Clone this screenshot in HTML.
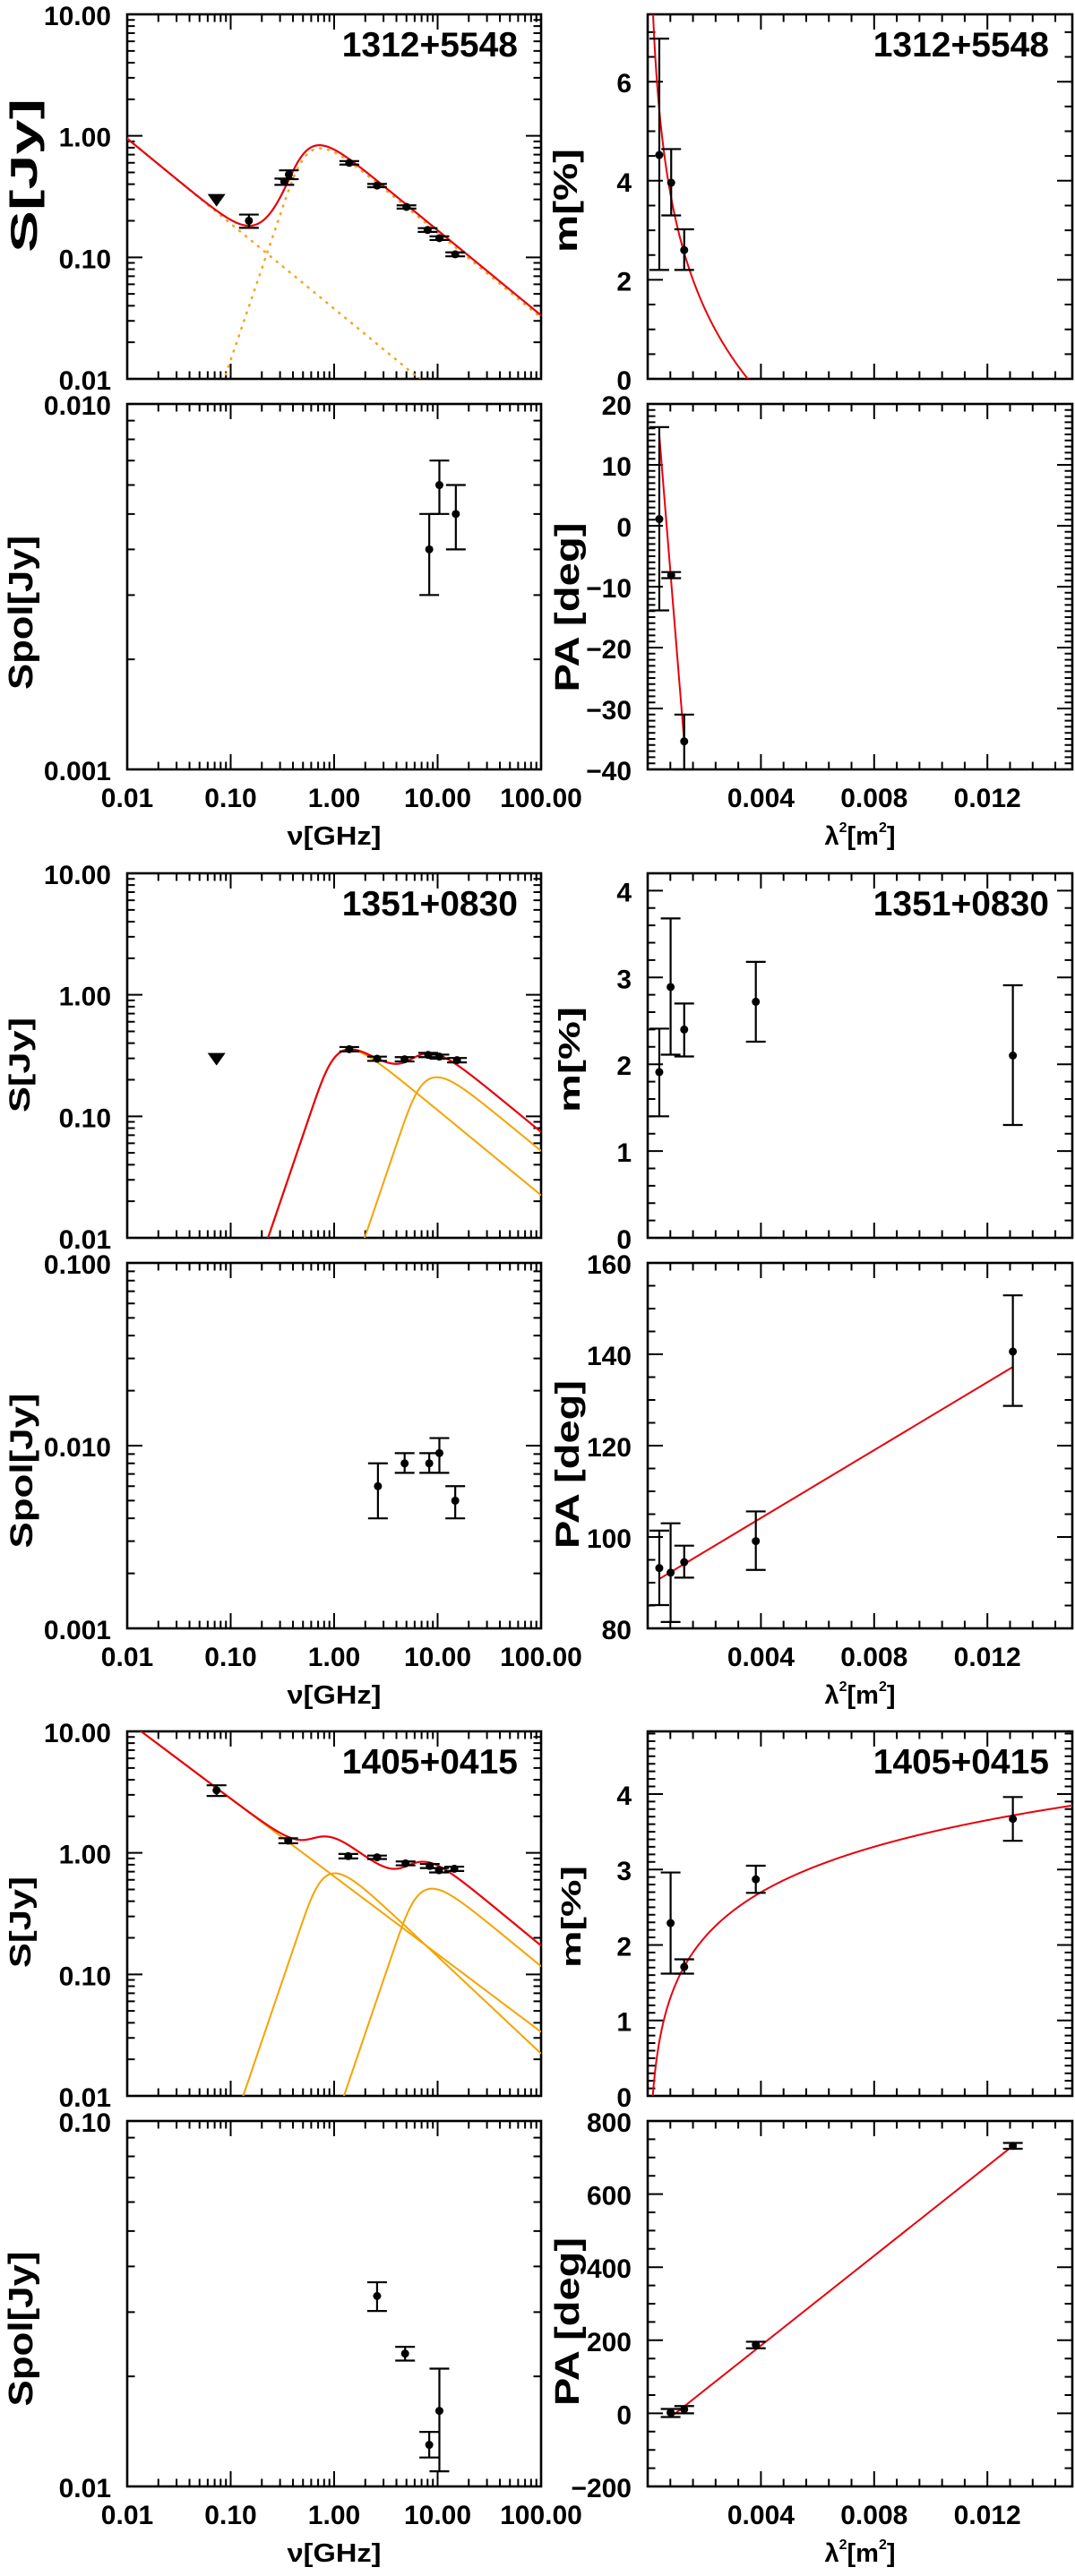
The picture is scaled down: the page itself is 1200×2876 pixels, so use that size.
<!DOCTYPE html>
<html><head><meta charset="utf-8"><title>Radio spectra and polarization</title>
<style>html,body{margin:0;padding:0;background:#fff;overflow:hidden}svg{display:block}text{font-family:"Liberation Sans",Arial,sans-serif;font-weight:bold;fill:#000}</style>
</head><body>
<svg id="fig" xmlns="http://www.w3.org/2000/svg" width="1200" height="2876" viewBox="0 0 1200 2876"></svg>
<script>
// ---------------- DATA ----------------
// Group 1: 1312+5548
const g1Nu = [0.15, 0.33, 0.365, 1.4, 2.6, 5.0, 8.0, 10.4, 14.8];
const g1S = [0.20, 0.42, 0.48, 0.60, 0.39, 0.26, 0.168, 0.144, 0.106];
const g1SErr = [0.025, 0.025, 0.04, 0.02, 0.012, 0.008, 0.006, 0.005, 0.004];
const g1LimNu = [0.073];
const g1LimS = [0.30];
const g1PL = [0.0378, -0.7];
const g1SSA = [0.582, 1.168, -0.7];
const g1PNu = [8.3, 10.4, 15.0];
const g1PS = [0.004, 0.006, 0.005];
const g1PLo = [0.003, 0.005, 0.004];
const g1PHi = [0.005, 0.007, 0.006];
const g1L2 = [0.00041, 0.00083, 0.00129];
const g1M = [4.52, 3.96, 2.6];
const g1MLo = [2.2, 3.3, 2.2];
const g1MHi = [6.87, 4.64, 3.02];
const g1MFit = [-2.52, 0.00354];
const g1PA = [1.1, -8.1, -35.4];
const g1PALo = [-13.9, -8.6, -40];
const g1PAHi = [16.2, -7.6, -31];
const g1PAFit = [38.3, -57160, 0.00041, 0.00129];
// Group 2: 1351+0830
const g2Nu = [1.4, 2.6, 4.8, 8.1, 10.4, 15.4];
const g2S = [0.357, 0.298, 0.295, 0.32, 0.31, 0.29];
const g2SErr = [0.015, 0.012, 0.012, 0.013, 0.012, 0.012];
const g2LimNu = [0.073];
const g2LimS = [0.30];
const g2SSA1 = [1.118, 0.521, -0.7];
const g2SSA2 = [7.79, 0.31, -0.7];
const g2PNu = [2.65, 4.8, 8.3, 10.4, 14.8];
const g2PS = [0.006, 0.008, 0.008, 0.0091, 0.005];
const g2PLo = [0.004, 0.0071, 0.0071, 0.0071, 0.004];
const g2PHi = [0.008, 0.0091, 0.0091, 0.011, 0.006];
const g2L2 = [0.00041, 0.00081, 0.00129, 0.00382, 0.0129];
const g2M = [1.91, 2.89, 2.40, 2.72, 2.10];
const g2MLo = [1.40, 2.11, 2.09, 2.26, 1.30];
const g2MHi = [2.41, 3.68, 2.70, 3.18, 2.91];
const g2PA = [93.2, 92.2, 94.5, 99.1, 140.6];
const g2PALo = [85.1, 81.4, 91.1, 92.8, 128.7];
const g2PAHi = [101.4, 103.0, 98.1, 105.6, 152.9];
const g2PAFit = [89.3, 3715, 0.00041, 0.0129];
// Group 3: 1405+0415
const g3Nu = [0.073, 0.36, 1.37, 2.6, 4.9, 8.4, 10.3, 14.5];
const g3S = [3.27, 1.26, 0.94, 0.92, 0.82, 0.78, 0.72, 0.74];
const g3SErr = [0.33, 0.06, 0.04, 0.03, 0.03, 0.03, 0.03, 0.03];
const g3PL = [0.64, -0.64];
const g3SSA1 = [0.84, 1.02, -0.8];
const g3SSA2 = [7.0, 0.75, -0.7];
const g3PNu = [2.6, 4.85, 8.3, 10.4];
const g3PS = [0.0332, 0.0231, 0.0130, 0.0161];
const g3PLo = [0.0302, 0.0221, 0.0120, 0.0110];
const g3PHi = [0.0362, 0.0241, 0.0141, 0.0210];
const g3L2 = [0.00081, 0.00129, 0.00382, 0.0129];
const g3M = [2.29, 1.71, 2.87, 3.67];
const g3MLo = [1.62, 1.62, 2.69, 3.38];
const g3MHi = [2.96, 1.81, 3.05, 3.96];
const g3MFit = [0.87, 0.00018];
const g3PA = [2, 11, 188, 732];
const g3PALo = [-10, 0, 178, 724];
const g3PAHi = [12, 20, 196, 740];
const g3PAFit = [-60, 61400, 0.00085, 0.0129];
// tick labels
const nuTickVals = [0.01, 0.1, 1, 10, 100];
const nuTickText = ['0.01', '0.10', '1.00', '10.00', '100.00'];
const l2TickVals = [0.004, 0.008, 0.012];
const l2TickText = ['0.004', '0.008', '0.012'];
const sTickVals = [10, 1, 0.1, 0.01];
const sTickText = ['10.00', '1.00', '0.10', '0.01'];
const sourceNames = ['1312+5548', '1351+0830', '1405+0415'];

// ---------------- DRAWING ----------------
const NS = 'http://www.w3.org/2000/svg';
const svg = document.getElementById('fig');
function mk(parent, tag, attrs, name) {
  const el = document.createElementNS(NS, tag);
  for (const k in attrs) el.setAttribute(k, attrs[k]);
  
  
  parent.appendChild(el);
  return el;
}
function scale(min, max, p0, p1, log) {
  if (log) { const a = Math.log10(min), b = Math.log10(max); return v => p0 + (Math.log10(v) - a) / (b - a) * (p1 - p0); }
  return v => p0 + (v - min) / (max - min) * (p1 - p0);
}
const LX = [142, 604], RX = [723, 1197];
const TOPS = [16, 975, 1933];
let clipN = 0;
function panel(o) {
  const g = mk(svg, 'g', {}, o.name);
  const sx = scale(o.xmin, o.xmax, o.x0, o.x1, o.xlog);
  const sy = scale(o.ymin, o.ymax, o.y1, o.y0, o.ylog);
  const id = 'clip' + (clipN++);
  const cp = mk(g, 'clipPath', {id: id}, o.name + '-clip');
  mk(cp, 'rect', {x: o.x0, y: o.y0, width: o.x1 - o.x0, height: o.y1 - o.y0}, o.name + '-clip-rect');
  const ticks = mk(g, 'g', {stroke: '#000', 'stroke-width': 2}, o.name + '-ticks');
  let d = '';
  function xt(v, len) { const x = sx(v); d += `M${x},${o.y1}v${-len}M${x},${o.y0}v${len}`; }
  function yt(v, len) { const y = sy(v); d += `M${o.x0},${y}h${len}M${o.x1},${y}h${-len}`; }
  const MJ = 17, MN = 8.5;
  if (o.xlog) { for (let e = -2; e <= 2; e++) { xt(Math.pow(10, e), MJ); if (e < 2) for (let k = 2; k < 10; k++) xt(k * Math.pow(10, e), MN); } }
  else { for (let i = 0; i * o.xminor <= o.xmax + 1e-9; i++) { const v = i * o.xminor; const isMaj = Math.abs(v / o.xmajor - Math.round(v / o.xmajor)) < 1e-6; xt(v, isMaj ? MJ : MN); } }
  if (o.ylog) { const a = Math.round(Math.log10(o.ymin)), b = Math.round(Math.log10(o.ymax)); for (let e = a; e <= b; e++) { yt(Math.pow(10, e), MJ); if (e < b) for (let k = 2; k < 10; k++) yt(k * Math.pow(10, e), MN); } }
  else { const start = Math.ceil(o.ymin / o.yminor - 1e-6);
    for (let i = start; i * o.yminor <= o.ymax + 1e-9; i++) { const v = i * o.yminor; const isMaj = Math.abs(v / o.ymajor - Math.round(v / o.ymajor)) < 1e-6; yt(v, isMaj ? MJ : MN); } }
  mk(ticks, 'path', {d: d, fill: 'none'}, o.name + '-tick-marks');
  mk(g, 'rect', {x: o.x0, y: o.y0, width: o.x1 - o.x0, height: o.y1 - o.y0, fill: 'none', stroke: '#000', 'stroke-width': 2.6}, o.name + '-frame');
  const yl = mk(g, 'g', {'font-size': 30, 'text-anchor': 'end'}, o.name + '-y-tick-labels');
  o.yTickVals.forEach((v, i) => { const t = mk(yl, 'text', {x: o.x0 - 18, y: sy(v) + 12}, 'y-tick-label'); t.textContent = o.yTickText[i]; });
  if (o.xTickVals) {
    const xl = mk(g, 'g', {'font-size': 30, 'text-anchor': 'middle'}, o.name + '-x-tick-labels');
    o.xTickVals.forEach((v, i) => { const t = mk(xl, 'text', {x: sx(v), y: o.y1 + 42}, 'x-tick-label'); t.textContent = o.xTickText[i]; });
  }
  if (o.title) { const t = mk(g, 'text', {x: o.x1 - 26, y: o.y0 + 47, 'font-size': 39, 'text-anchor': 'end'}, o.name + '-source-name'); t.textContent = o.title; }
  if (o.ylabel) { const L = o.ylabel; const t = mk(g, 'text', {x: L[1], y: L[2], 'font-size': L[3], 'text-anchor': 'middle', textLength: L[4], lengthAdjust: 'spacingAndGlyphs', transform: `rotate(-90 ${L[1]} ${L[2]})`}, o.name + '-y-axis-title'); t.textContent = L[0]; }
  const plot = mk(g, 'g', {'clip-path': `url(#${id})`}, o.name + '-plot-area');
  return {g, plot, sx, sy, o};
}
function errPoints(p, xs, ys, lo, hi, name) {
  const g = mk(p.g, 'g', {}, name);
  xs.forEach((xv, i) => {
    const x = p.sx(xv), y = p.sy(ys[i]), yl = p.sy(lo[i]), yh = p.sy(hi[i]);
    mk(g, 'path', {d: `M${x},${yl}V${yh}M${x - 11},${yl}h22M${x - 11},${yh}h22`, stroke: '#000', 'stroke-width': 2.2, fill: 'none'}, 'error-bar');
    mk(g, 'circle', {cx: x, cy: y, r: 4.5, fill: '#000'}, 'data-point');
  });
}
function sym(p, xs, ys, err, name) { errPoints(p, xs, ys, ys.map((v, i) => v - err[i]), ys.map((v, i) => v + err[i]), name); }
function limits(p, xs, ys, name) {
  xs.forEach((xv, i) => { const x = p.sx(xv), y = p.sy(ys[i]);
    mk(p.g, 'polygon', {points: `${x - 10},${y - 6} ${x + 10},${y - 6} ${x},${y + 8}`, fill: '#000'}, name); });
}
function ssa(nu, c) { const x = nu / c[0]; return c[1] * Math.pow(x, 2.5) * (1 - Math.exp(-Math.pow(x, c[2] - 2.5))); }
function pl(nu, c) { return c[0] * Math.pow(nu, c[1]); }
const NUS = []; for (let i = 0; i <= 800; i++) NUS.push(Math.pow(10, -2 + 4 * i / 800));
function curve(p, fn, xs, style, name) {
  let d = '';
  const lo = p.o.y0 - 30, hi = p.o.y1 + 30;
  xs.forEach((x, i) => { let v = fn(x); if (p.o.ylog) v = Math.max(v, 1e-8); let Y = p.sy(v); Y = Math.max(lo, Math.min(hi, Y)); d += (i ? 'L' : 'M') + p.sx(x).toFixed(2) + ',' + Y.toFixed(2); });
  const a = {d: d, fill: 'none', stroke: style.c, 'stroke-width': style.w || 2};
  if (style.dash) { a['stroke-dasharray'] = style.dash; a['stroke-linecap'] = 'round'; }
  mk(p.plot, 'path', a, name);
}
const RED = {c: '#e8000b', w: 2.2}, ORG = {c: '#f5a300', w: 2}, DOT = {c: '#f5a623', w: 2.6, dash: '1 8'};
const L2S = []; for (let i = 0; i <= 600; i++) L2S.push(0.015 * Math.pow(i / 600, 2) + 1e-6);

function xlabelNu(y) { const t = mk(svg, 'text', {x: 373, y: y, 'font-size': 29, 'text-anchor': 'middle', textLength: 105, lengthAdjust: 'spacingAndGlyphs'}, 'x-axis-title-frequency'); t.textContent = 'ν[GHz]'; }
function xlabelL2(y) {
  const t = mk(svg, 'text', {x: 960, y: y, 'font-size': 29, 'text-anchor': 'middle'}, 'x-axis-title-lambda-squared');
  const a = mk(t, 'tspan', {}, 'lambda'); a.textContent = 'λ';
  const b = mk(t, 'tspan', {dy: -14, 'font-size': 16}, 'superscript'); b.textContent = '2';
  const c = mk(t, 'tspan', {dy: 14}, 'unit'); c.textContent = '[m';
  const e = mk(t, 'tspan', {dy: -14, 'font-size': 16}, 'superscript'); e.textContent = '2';
  const f = mk(t, 'tspan', {dy: 14}, 'bracket'); f.textContent = ']';
}

const G = [
  {S: [g1Nu, g1S, g1SErr], lim: [g1LimNu, g1LimS], P: [g1PNu, g1PS, g1PLo, g1PHi], M: [g1L2, g1M, g1MLo, g1MHi], PA: [g1L2, g1PA, g1PALo, g1PAHi],
   pRange: [0.001, 0.01], pTicks: [0.01, 0.001], pText: ['0.010', '0.001'],
   mRange: [0, 7.36, 2, 0.5], mTicks: [0, 2, 4, 6],
   paRange: [-40, 20, 10, 1], paTicks: [20, 10, 0, -10, -20, -30, -40],
   lab: {S: [41, 196, 42, 172], P: [36, 684, 38, 172], M: [644, 224, 37, 116], A: [646, 678, 38, 189]}},
  {S: [g2Nu, g2S, g2SErr], lim: [g2LimNu, g2LimS], P: [g2PNu, g2PS, g2PLo, g2PHi], M: [g2L2, g2M, g2MLo, g2MHi], PA: [g2L2, g2PA, g2PALo, g2PAHi],
   pRange: [0.001, 0.1], pTicks: [0.1, 0.01, 0.001], pText: ['0.100', '0.010', '0.001'],
   mRange: [0, 4.2, 1, 0.2], mTicks: [0, 1, 2, 3, 4],
   paRange: [80, 160, 20, 5], paTicks: [160, 140, 120, 100, 80],
   lab: {S: [33, 1189, 32, 106], P: [36, 1642, 35, 173], M: [647, 1183, 33, 118], A: [646, 1635, 37, 188]}},
  {S: [g3Nu, g3S, g3SErr], lim: null, P: [g3PNu, g3PS, g3PLo, g3PHi], M: [g3L2, g3M, g3MLo, g3MHi], PA: [g3L2, g3PA, g3PALo, g3PAHi],
   pRange: [0.01, 0.1], pTicks: [0.1, 0.01], pText: ['0.10', '0.01'],
   mRange: [0, 4.83, 1, 0.1], mTicks: [0, 1, 2, 3, 4],
   paRange: [-200, 800, 200, 50], paTicks: [800, 600, 400, 200, 0, -200],
   lab: {S: [34, 2146, 33, 102], P: [36, 2600, 38, 173], M: [648, 2140, 31, 114], A: [646, 2592, 38, 188]}}
];

G.forEach((gr, gi) => {
  const T = TOPS[gi], aT = T, aB = T + 407, bT = T + 435, bB = T + 843;
  const id = 'g' + (gi + 1);
  const pS = panel({name: id + '-flux-panel', x0: LX[0], x1: LX[1], y0: aT, y1: aB, xlog: true, xmin: 0.01, xmax: 100, ylog: true, ymin: 0.01, ymax: 10,
    yTickVals: sTickVals, yTickText: sTickText, title: sourceNames[gi], ylabel: ['S[Jy]', gr.lab.S[0], gr.lab.S[1], gr.lab.S[2], gr.lab.S[3]]});
  const pP = panel({name: id + '-polflux-panel', x0: LX[0], x1: LX[1], y0: bT, y1: bB, xlog: true, xmin: 0.01, xmax: 100, ylog: true, ymin: gr.pRange[0], ymax: gr.pRange[1],
    yTickVals: gr.pTicks, yTickText: gr.pText, xTickVals: nuTickVals, xTickText: nuTickText, ylabel: ['Spol[Jy]', gr.lab.P[0], gr.lab.P[1], gr.lab.P[2], gr.lab.P[3]]});
  const pM = panel({name: id + '-pol-degree-panel', x0: RX[0], x1: RX[1], y0: aT, y1: aB, xlog: false, xmin: 0, xmax: 0.015, xmajor: 0.004, xminor: 0.0008, ylog: false, ymin: gr.mRange[0], ymax: gr.mRange[1], ymajor: gr.mRange[2], yminor: gr.mRange[3],
    yTickVals: gr.mTicks, yTickText: gr.mTicks.map(String), title: sourceNames[gi], ylabel: ['m[%]', gr.lab.M[0], gr.lab.M[1], gr.lab.M[2], gr.lab.M[3]]});
  const pA = panel({name: id + '-pol-angle-panel', x0: RX[0], x1: RX[1], y0: bT, y1: bB, xlog: false, xmin: 0, xmax: 0.015, xmajor: 0.004, xminor: 0.0008, ylog: false, ymin: gr.paRange[0], ymax: gr.paRange[1], ymajor: gr.paRange[2], yminor: gr.paRange[3],
    yTickVals: gr.paTicks, yTickText: gr.paTicks.map(v => v < 0 ? '\u2212' + (-v) : String(v)), xTickVals: l2TickVals, xTickText: l2TickText, ylabel: ['PA [deg]', gr.lab.A[0], gr.lab.A[1], gr.lab.A[2], gr.lab.A[3]]});

  if (gi === 0) {
    curve(pS, n => pl(n, g1PL), NUS, DOT, 'power-law-component');
    curve(pS, n => ssa(n, g1SSA), NUS, DOT, 'self-absorbed-component');
    curve(pS, n => pl(n, g1PL) + ssa(n, g1SSA), NUS, RED, 'total-fit-curve');
    curve(pM, l => g1MFit[0] * Math.log(l / g1MFit[1]), L2S, {c: '#e8000b', w: 2}, 'depolarization-fit');
    curve(pA, l => g1PAFit[0] + g1PAFit[1] * l, [g1PAFit[2], g1PAFit[3]], {c: '#e8000b', w: 2}, 'rotation-measure-fit');
  } else if (gi === 1) {
    curve(pS, n => ssa(n, g2SSA1), NUS, ORG, 'component-1');
    curve(pS, n => ssa(n, g2SSA2), NUS, ORG, 'component-2');
    curve(pS, n => ssa(n, g2SSA1) + ssa(n, g2SSA2), NUS, RED, 'total-fit-curve');
    curve(pA, l => g2PAFit[0] + g2PAFit[1] * l, [g2PAFit[2], g2PAFit[3]], {c: '#e8000b', w: 2}, 'rotation-measure-fit');
  } else {
    curve(pS, n => pl(n, g3PL), NUS, ORG, 'power-law-component');
    curve(pS, n => ssa(n, g3SSA1), NUS, ORG, 'component-1');
    curve(pS, n => ssa(n, g3SSA2), NUS, ORG, 'component-2');
    curve(pS, n => pl(n, g3PL) + ssa(n, g3SSA1) + ssa(n, g3SSA2), NUS, RED, 'total-fit-curve');
    curve(pM, l => g3MFit[0] * Math.log(l / g3MFit[1]), L2S, {c: '#e8000b', w: 2}, 'depolarization-fit');
    curve(pA, l => g3PAFit[0] + g3PAFit[1] * l, [g3PAFit[2], g3PAFit[3]], {c: '#e8000b', w: 2}, 'rotation-measure-fit');
  }
  sym(pS, gr.S[0], gr.S[1], gr.S[2], 'flux-density-points');
  if (gr.lim) limits(pS, gr.lim[0], gr.lim[1], 'upper-limit-marker');
  errPoints(pP, gr.P[0], gr.P[1], gr.P[2], gr.P[3], 'polarized-flux-points');
  errPoints(pM, gr.M[0], gr.M[1], gr.M[2], gr.M[3], 'pol-degree-points');
  errPoints(pA, gr.PA[0], gr.PA[1], gr.PA[2], gr.PA[3], 'pol-angle-points');
  xlabelNu(bB + 84);
  xlabelL2(bB + 84);
});
</script>
</body></html>
